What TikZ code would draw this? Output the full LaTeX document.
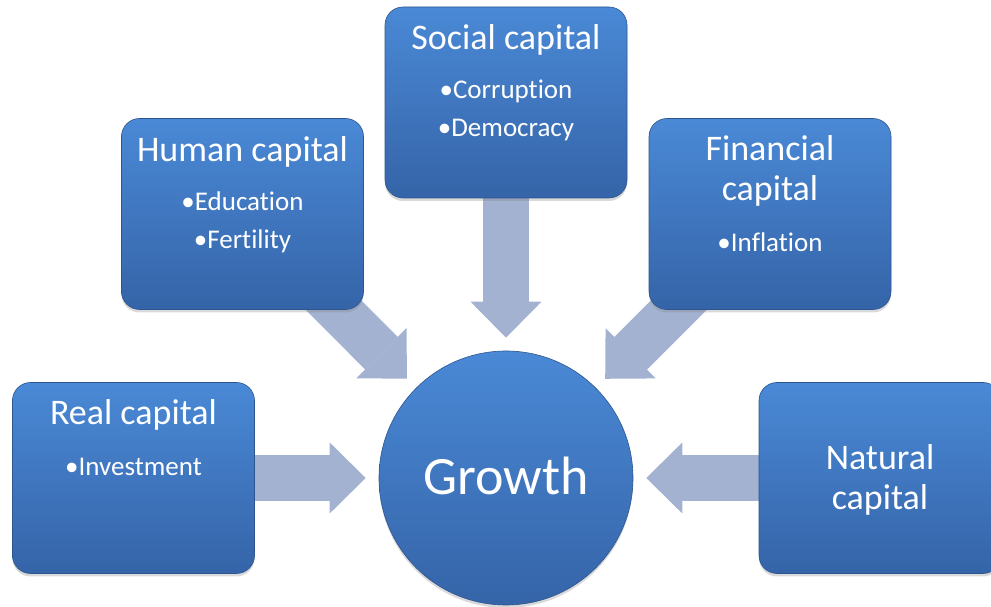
\documentclass[tikz,border=0pt]{standalone}
\usepackage{fontspec}
\setmainfont{Carlito}[Ligatures={NoCommon}]
\usetikzlibrary{positioning,arrows.meta,shadows,backgrounds}

\definecolor{boxtop}{HTML}{4A89D6}
\definecolor{boxbot}{HTML}{3564A8}
\definecolor{feedgray}{HTML}{A3B2D1}
\definecolor{feedlight}{HTML}{C6D0E5}

\begin{document}
\begin{tikzpicture}[on grid,
	capital/.style={rectangle,rounded corners=18pt,minimum width=242pt,minimum height=191pt,
		top color=boxtop,bottom color=boxbot,draw=boxbot!85!black,line width=0.6pt,
		drop shadow={shadow xshift=0pt,shadow yshift=-3pt,opacity=0.3}},
	title/.style={text=white,font=\fontsize{36}{40}\selectfont,anchor=base,inner sep=0pt},
	item/.style={text=white,font=\fontsize{27}{32}\selectfont,anchor=base,inner sep=0pt},
	feed/.style={line width=46pt,draw=feedgray,shorten >=13pt,
		-{Triangle[length=36pt,width=71pt,line width=0pt]}}]

	\useasboundingbox (0,0) rectangle (991pt,607pt);

	\node[circle,inner sep=0pt,minimum size=254pt,top color=boxtop,bottom color=boxbot,
		draw=boxbot!85!black,line width=0.6pt,
		drop shadow={shadow xshift=0pt,shadow yshift=-3pt,opacity=0.3}] (growth) at (506pt,129pt) {};
	\node[title,font=\fontsize{54}{60}\selectfont] (gt) at ([yshift=-17pt]growth.center) {Growth};

	\node[capital] (sc) [above=375.5pt of growth] {};
	\node[capital] (hc) [above left=264pt and 263.5pt of growth] {};
	\node[capital] (fc) [above right=264pt and 264pt of growth] {};
	\node[capital] (rc) [left=372.5pt of growth] {};
	\node[capital] (nc) [right=374pt of growth] {};

	% texts in the boxes
	\node[title] (sct) at ([yshift=-43pt]sc.north) {Social capital};
	\node[item] (sc1) at ([yshift=-92pt]sc.north) {•Corruption};
	\node[item] (sc2) at ([yshift=-130pt]sc.north) {•Democracy};

	\node[title] (hct) at ([yshift=-43pt]hc.north) {Human capital};
	\node[item] (hc1) at ([yshift=-92pt]hc.north) {•Education};
	\node[item] (hc2) at ([yshift=-130pt]hc.north) {•Fertility};

	\node[title] (fct) at ([yshift=-42pt]fc.north) {Financial};
	\node[title] (fct2) at ([yshift=-82pt]fc.north) {capital};
	\node[item] (fc1) at ([yshift=-133pt]fc.north) {•Inflation};

	\node[title] (rct) at ([yshift=-42pt]rc.north) {Real capital};
	\node[item] (rc1) at ([yshift=-93pt]rc.north) {•Investment};

	\node[title] (nct) at ([yshift=8.5pt]nc.center) {Natural};
	\node[title] (nct2) at ([yshift=-31.5pt]nc.center) {capital};

	% block arrows into growth
	\begin{scope}[on background layer]
		\draw[feed] (sc.center) -- (growth);
		\draw[feed] (hc.center) -- (growth);
		\draw[feed] (fc.center) -- (growth);
		\draw[feed] (rc.center) -- (growth);
		\draw[feed] (nc.center) -- (growth);
	\end{scope}
\end{tikzpicture}
\end{document}
